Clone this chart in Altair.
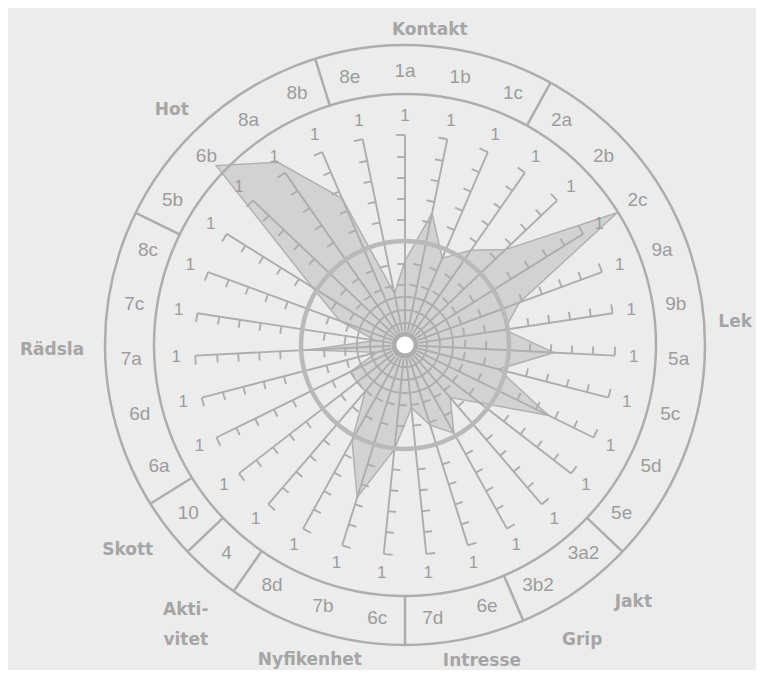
import math
import pandas as pd
import altair as alt

# ---------------- data ----------------
items = ["1a", "1b", "1c", "2a", "2b", "2c", "9a", "9b", "5a", "5c", "5d",
         "5e", "3a2", "3b2", "6e", "7d", "6c", "7b", "8d", "4", "10", "6a",
         "6d", "7a", "7c", "8c", "5b", "6b", "8a", "8b", "8e"]
# profile value on each spoke, as a fraction of the spoke length
profile = [0.40, 0.64, 0.45, 0.55, 0.66, 1.19, 0.58, 0.48, 0.71, 0.46, 0.76,
           0.45, 0.33, 0.48, 0.40, 0.30, 0.50, 0.76, 0.52, 0.29, 0.29, 0.29,
           0.14, 0.46, 0.14, 0.33, 0.52, 1.24, 1.06, 0.76, 0.25]
scale_end_label = "1"
categories = ["Kontakt", "Lek", "Jakt", "Grip", "Intresse", "Nyfikenhet",
              "Akti-\nvitet", "Skott", "Rädsla", "Hot"]
# ring segment boundaries: after these item indices
boundaries_after = [2, 11, 13, 15, 18, 19, 20, 25, 29]

# ---------------- layout ----------------
W, H = 748, 662
CX, CY = 397, 337          # centre in plot pixels
SPOKE_R = 210              # spoke length
R_IN, R_OUT = 251, 300     # label ring
MID_R = 104                # thick circle
LABEL_R = 274
ONE_R = 229
TICK_R = [60, 81, 104, 125, 146, 167, 188]
TICK_L = 8
HOOK_L = 9
INNER_CIRCLES = [22, 35, 48]
# category label placement: (angle deg clockwise from top, radius)
cat_pos = [(4.5, 316), (86.0, 331), (138.4, 344), (149.0, 344), (166.3, 325),
           (196.8, 329), (219.6, 344), (233.5, 345), (269.2, 353), (315.2, 331)]

LINE = "#adadad"
TXT = "#9c9c9c"
N = len(items)


def pt(theta_deg, r):
    t = math.radians(theta_deg)
    return CX + r * math.sin(t), CY - r * math.cos(t)


def ccw(theta_deg):
    t = math.radians(theta_deg)
    return -math.cos(t), -math.sin(t)


angles = [i * 360.0 / N for i in range(N)]

# polygon
poly_rows = []
for k in range(N + 1):
    i = k % N
    x, y = pt(angles[i], profile[i] * SPOKE_R)
    poly_rows.append({"x": x, "y": y, "o": k})
poly_df = pd.DataFrame(poly_rows)

# spokes + ticks
seg_rows = []
for i in range(N):
    a = angles[i]
    x1, y1 = pt(a, 14)
    x2, y2 = pt(a, SPOKE_R)
    seg_rows.append({"x": x1, "y": y1, "x2": x2, "y2": y2})
    dx, dy = ccw(a)
    seg_rows.append({"x": x2, "y": y2, "x2": x2 + HOOK_L * dx, "y2": y2 + HOOK_L * dy})
    for rt in TICK_R:
        tx, ty = pt(a, rt)
        seg_rows.append({"x": tx, "y": ty, "x2": tx + TICK_L * dx, "y2": ty + TICK_L * dy})
seg_df = pd.DataFrame(seg_rows)

# ring boundaries
b_rows = []
for b in boundaries_after:
    a = (b + 0.5) * 360.0 / N
    x1, y1 = pt(a, R_IN)
    x2, y2 = pt(a, R_OUT)
    b_rows.append({"x": x1, "y": y1, "x2": x2, "y2": y2})
b_df = pd.DataFrame(b_rows)

# circles
circ_df = pd.DataFrame([
    {"x": CX, "y": CY, "s": (2 * r) ** 2, "w": w}
    for r, w in [(R_IN, 2.5), (R_OUT, 2.5)] + [(r, 1.8) for r in INNER_CIRCLES]
])
mid_df = pd.DataFrame([{"x": CX, "y": CY, "s": (2 * MID_R) ** 2}])
hub_df = pd.DataFrame([{"x": CX, "y": CY, "s": 22 ** 2}])

# labels
lab_rows = []
one_rows = []
for i in range(N):
    x, y = pt(angles[i], LABEL_R)
    lab_rows.append({"x": x, "y": y, "t": items[i]})
    x, y = pt(angles[i], ONE_R)
    one_rows.append({"x": x, "y": y, "t": scale_end_label})
lab_df = pd.DataFrame(lab_rows)
one_df = pd.DataFrame(one_rows)
cat_rows = []
for name, (a, r) in zip(categories, cat_pos):
    x, y = pt(a, r)
    cat_rows.append({"x": x, "y": y, "t": name})
cat_df = pd.DataFrame(cat_rows)

xs = alt.Scale(domain=[0, W], range=[0, W])
ys = alt.Scale(domain=[0, H], range=[0, H])
X = alt.X("x:Q", scale=xs, axis=None)
Y = alt.Y("y:Q", scale=ys, axis=None)

poly = alt.Chart(poly_df).mark_line(
    filled=True, fill="#d2d2d2", stroke="#b1b1b1", strokeWidth=1.5,
    strokeJoin="miter"
).encode(x=X, y=Y, order="o:Q")

segs = alt.Chart(seg_df).mark_rule(color=LINE, strokeWidth=1.9).encode(
    x=X, y=Y, x2="x2:Q", y2="y2:Q")
bnds = alt.Chart(b_df).mark_rule(color=LINE, strokeWidth=2.5).encode(
    x=X, y=Y, x2="x2:Q", y2="y2:Q")

circles = alt.Chart(circ_df).mark_point(
    shape="circle", filled=False, color=LINE, opacity=1
).encode(x=X, y=Y, size=alt.Size("s:Q", scale=None, legend=None),
         strokeWidth=alt.StrokeWidth("w:Q", scale=None, legend=None))
mid = alt.Chart(mid_df).mark_point(
    shape="circle", filled=False, color="#b9b9b9", strokeWidth=4.5, opacity=1
).encode(x=X, y=Y, size=alt.Size("s:Q", scale=None, legend=None))
hub = alt.Chart(hub_df).mark_point(
    shape="circle", fill="#ffffff", fillOpacity=1, stroke=LINE, strokeWidth=5,
    opacity=1
).encode(x=X, y=Y, size=alt.Size("s:Q", scale=None, legend=None))

labels = alt.Chart(lab_df).mark_text(
    font="Liberation Sans", fontSize=19, color=TXT, align="center",
    baseline="middle").encode(x=X, y=Y, text="t:N")
ones = alt.Chart(one_df).mark_text(
    font="Liberation Sans", fontSize=17, color=TXT, align="center",
    baseline="middle").encode(x=X, y=Y, text="t:N")
cats = alt.Chart(cat_df).mark_text(
    font="DejaVu Sans", fontSize=17, fontWeight="bold", color="#a5a5a5",
    align="center", baseline="middle", lineBreak="\n", lineHeight=30
).encode(x=X, y=Y, text="t:N")

chart = alt.layer(
    poly, segs, circles, mid, hub, bnds, labels, ones, cats
).properties(
    width=W, height=H, autosize=alt.AutoSizeParams(type="none"),
    padding=0, background="#ececec"
).configure_view(stroke=None)

chart.save("out.html", embed_options={"renderer": "svg", "actions": False})
